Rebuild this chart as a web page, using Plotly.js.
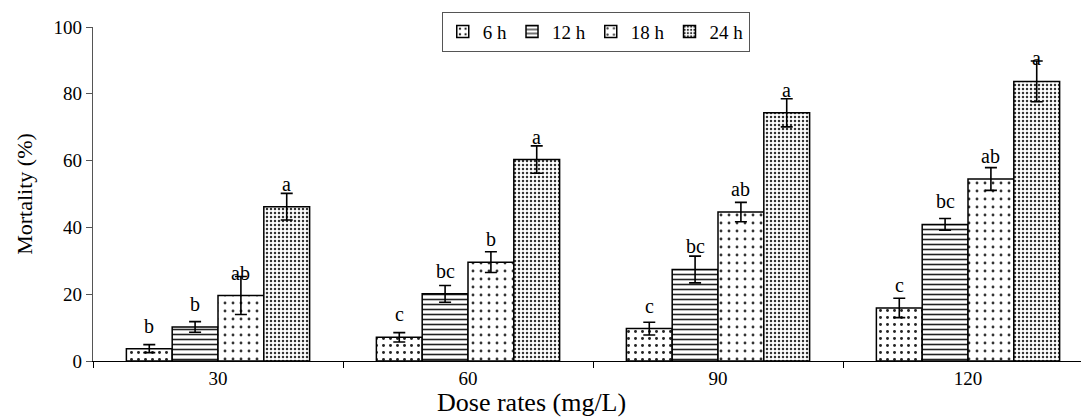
<!DOCTYPE html>
<html>
<head>
<meta charset="utf-8">
<script src="https://cdn.plot.ly/plotly-3.0.1.min.js"></script>
<style>html,body{margin:0;padding:0;background:#fff;}#chart{width:1081px;height:417px;}</style>
</head>
<body>
<div id="chart"></div>
<script>
const doses = ['30', '60', '90', '120'];
const seriesNames = ['6 h', '12 h', '18 h', '24 h'];
const mort6 = [3.7, 7.1, 9.7, 15.9];
const err6 = [1.2, 1.4, 1.9, 2.9];
const mort12 = [10.2, 20.1, 27.4, 40.9];
const err12 = [1.6, 2.5, 4.0, 1.75];
const mort18 = [19.6, 29.6, 44.6, 54.5];
const err18 = [5.7, 3.1, 2.9, 3.4];
const mort24 = [46.2, 60.3, 74.3, 83.7];
const err24 = [4.0, 4.1, 4.2, 6.1];
const let6 = ['b', 'c', 'c', 'c'];
const let12 = ['b', 'bc', 'bc', 'bc'];
const let18 = ['ab', 'b', 'ab', 'ab'];
const let24 = ['a', 'a', 'a', 'a'];

const values = [mort6, mort12, mort18, mort24];
const errors = [err6, err12, err18, err24];
const letters = [let6, let12, let18, let24];
const patterns = [
  {shape: '.', size: 7, solidity: 0.14, fgcolor: '#222', bgcolor: '#fff'},
  {shape: '-', size: 5, solidity: 0.32, fgcolor: '#222', bgcolor: '#fff'},
  {shape: '.', size: 8, solidity: 0.1, fgcolor: '#333', bgcolor: '#fff'},
  {shape: '.', size: 4, solidity: 0.3, fgcolor: '#333', bgcolor: '#fff'}
];

const FONT = 'Liberation Serif';
const bargap = 0.267;
const barW = (1 - bargap) / 4;

const traces = values.map((v, i) => ({
  type: 'bar',
  name: seriesNames[i],
  x: doses,
  y: v,
  marker: {color: '#fff', line: {color: '#000', width: 1.5}, pattern: patterns[i]},
  error_y: {type: 'data', array: errors[i], visible: true, color: '#000', thickness: 1.6, width: 6}
}));

const annotations = [];
values.forEach((v, i) => {
  v.forEach((val, j) => {
    annotations.push({
      xref: 'x', yref: 'y',
      x: j + (i - 1.5) * barW,
      y: val,
      yshift: 23,
      text: letters[i][j],
      showarrow: false,
      yanchor: 'middle',
      font: {family: FONT, size: 20, color: '#000'}
    });
  });
});
annotations.push({
  xref: 'paper', yref: 'paper', x: 0.444, y: -0.125,
  text: 'Dose rates (mg/L)', showarrow: false, xanchor: 'center', yanchor: 'middle',
  font: {family: FONT, size: 26, color: '#000'}
});

const layout = {
  width: 1081, height: 417,
  margin: {l: 93, r: 0, t: 27, b: 56},
  paper_bgcolor: '#fff', plot_bgcolor: '#fff',
  font: {family: FONT, size: 19, color: '#000'},
  barmode: 'group', bargap: bargap, bargroupgap: 0,
  showlegend: true,
  legend: {
    orientation: 'h', x: 0.353, y: 1.046, xanchor: 'left', yanchor: 'top',
    bgcolor: '#fff', bordercolor: '#555', borderwidth: 1,
    font: {family: FONT, size: 19, color: '#000'},
    itemwidth: 30, traceorder: 'normal'
  },
  xaxis: {
    type: 'category', range: [-0.5, 3.452],
    showline: true, linecolor: '#000', linewidth: 1.2,
    ticks: 'outside', tickson: 'boundaries', ticklen: 6, tickcolor: '#000',
    showgrid: false, zeroline: false,
    tickfont: {family: FONT, size: 19, color: '#000'}
  },
  yaxis: {
    range: [0, 100], dtick: 20,
    title: {text: 'Mortality (%)', font: {family: FONT, size: 22, color: '#000'}, standoff: 14},
    showline: true, linecolor: '#555', linewidth: 1.2,
    ticks: 'outside', ticklen: 6, tickcolor: '#555',
    showgrid: false, zeroline: false,
    tickfont: {family: FONT, size: 19, color: '#000'}
  },
  annotations: annotations
};

Plotly.newPlot('chart', traces, layout, {displayModeBar: false, staticPlot: true});
</script>
</body>
</html>
